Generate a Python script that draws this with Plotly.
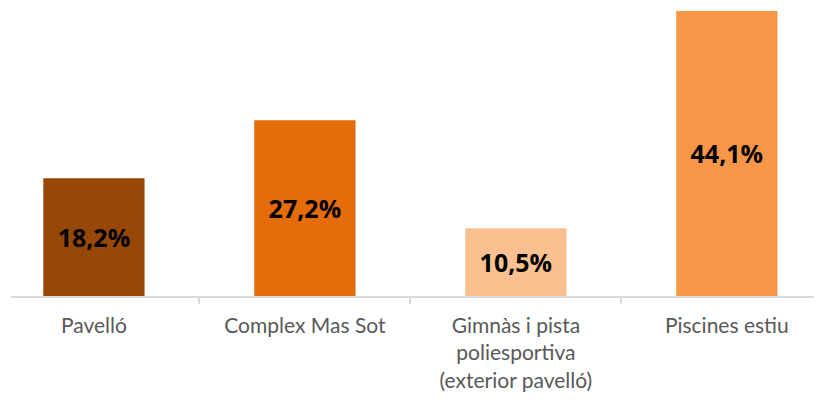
import plotly.graph_objects as go

categories = ["Pavelló", "Complex Mas Sot", "Gimnàs i pista<br>poliesportiva<br>(exterior pavelló)", "Piscines estiu"]
values = [18.2, 27.2, 10.5, 44.1]
labels = ["18,2%", "27,2%", "10,5%", "44,1%"]
colors = ["#974706", "#E46C0A", "#FAC090", "#F79646"]

fig = go.Figure(go.Bar(
    x=categories, y=values, text=labels,
    marker=dict(color=colors, line=dict(width=0)),
    width=0.48,
    textposition="inside", insidetextanchor="middle", textangle=0,
    textfont=dict(family="Open Sans", size=25, color="#000000", weight="bold"),
    constraintext="none",
))

fig.update_layout(
    width=822, height=400,
    margin=dict(l=3, r=0, t=0, b=112),
    paper_bgcolor="white", plot_bgcolor="white",
    showlegend=False,
    bargap=0.5,
    xaxis=dict(
        type="category", range=[-0.393, 3.489],
        showline=True, linecolor="#D9D9D9", linewidth=1.5,
        ticks="outside", tickson="boundaries", ticklen=6, tickcolor="#D9D9D9", tickwidth=1.5,
        tickfont=dict(family="Lato", size=21, color="#595959"),
        ticklabelstandoff=10,
        showgrid=False,
    ),
    yaxis=dict(range=[0, 44.56], visible=False, showgrid=False, zeroline=False),
)

fig.write_html("out.html")
